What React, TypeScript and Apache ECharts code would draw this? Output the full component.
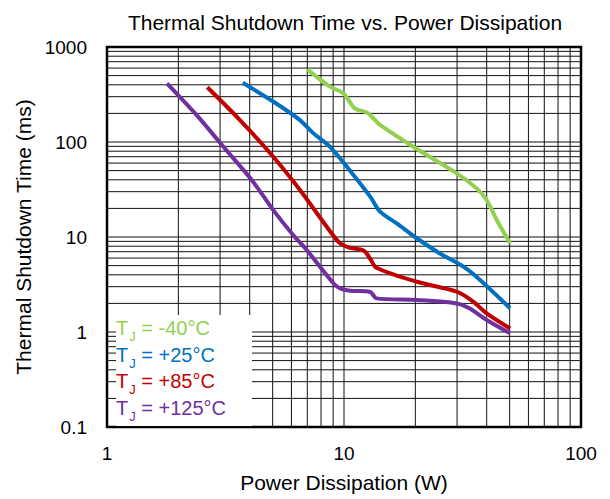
import React, { useEffect, useRef } from "react";
import * as echarts from "echarts";

const seriesNames = ["TJ = -40°C", "TJ = +25°C", "TJ = +85°C", "TJ = +125°C"];
const legendTemps = ["-40°C", "+25°C", "+85°C", "+125°C"];
const colors = ["#92D050", "#0070C0", "#C00000", "#7030A0"];

const greenData: [number, number][] = [
  [7.0, 582], [8.73, 382], [9.93, 326], [11.1, 226], [12.5, 204], [13.3, 178],
  [14.2, 151], [19.6, 89], [29.9, 46.8], [36.3, 32.5], [40.0, 24.5], [44.1, 15.1], [50.2, 8.6],
];
const blueData: [number, number][] = [
  [3.74, 421], [5.03, 266], [6.52, 170], [7.41, 124], [8.73, 89], [10.4, 53], [12.9, 26.6],
  [14.2, 18.5], [16.7, 13.9], [20.3, 9.7], [25.4, 6.7], [31.9, 4.87], [37.5, 3.53], [50.2, 1.78],
];
const redData: [number, number][] = [
  [2.65, 377], [3.64, 170], [5.03, 70], [6.52, 31.2], [8.73, 11.5], [9.62, 8.6], [10.6, 7.7],
  [12.1, 7.2], [12.9, 5.9], [13.7, 4.75], [20.3, 3.38], [29.9, 2.66], [35.2, 2.08], [40.0, 1.57], [50.2, 1.09],
];
const purpleData: [number, number][] = [
  [1.79, 415], [2.39, 192], [3.1, 89], [4.08, 39.8], [5.03, 19.2], [6.1, 10.5], [6.96, 7.3],
  [7.92, 4.87], [9.02, 3.26], [9.62, 2.88], [10.6, 2.72], [12.9, 2.64], [13.7, 2.26], [20.3, 2.17],
  [29.9, 2.0], [33.8, 1.78], [40.0, 1.34], [50.2, 0.97],
];
const allData = [greenData, blueData, redData, purpleData];

const xDecades = [1, 10];
const yDecades = [0.1, 1, 10, 100];
const gridMultipliers = [1, 2, 3, 4, 5, 6, 7, 8, 9];
const xTickLabels = ["1", "10", "100"];
const yTickLabels = ["0.1", "1", "10", "100", "1000"];

const FONT = "'Liberation Sans', Arial, sans-serif";

export default function App() {
  const ref = useRef<HTMLDivElement>(null);
  useEffect(() => {
    if (!ref.current) return;
    const chart = echarts.init(ref.current, null, { renderer: "svg" });
    const gridSeries: any[] = [];
    xDecades.forEach((d) =>
      gridMultipliers.forEach((m) => {
        const v = m * d;
        if (v <= 1) return;
        gridSeries.push({
          type: "line", silent: true, symbol: "none", z: 1,
          data: [[v, 0.1], [v, 1000]],
          lineStyle: { color: "#111", width: 1 },
        });
      })
    );
    yDecades.forEach((d) =>
      gridMultipliers.forEach((m) => {
        const v = Math.round(m * d * 1000) / 1000;
        if (v <= 0.1) return;
        gridSeries.push({
          type: "line", silent: true, symbol: "none", z: 1,
          data: [[1, v], [100, v]],
          lineStyle: { color: "#111", width: 1 },
        });
      })
    );
    const dataSeries = allData.map((d, i) => ({
      name: seriesNames[i],
      type: "line",
      symbol: "none",
      smooth: 0.3,
      z: 5,
      data: d,
      lineStyle: { color: colors[i], width: 4 },
    }));
    const legendTexts = legendTemps.map((t, i) => ({
      type: "text",
      z: 101,
      x: 116,
      y: 328 + i * 26.5,
      style: {
        text: `{a|T}{b|J}{a| = ${t}}`,
        verticalAlign: "middle",
        fill: colors[i],
        rich: {
          a: { fontSize: 20, fontFamily: FONT, color: colors[i], lineHeight: 24 },
          b: { fontSize: 13, fontFamily: FONT, color: colors[i], lineHeight: 24, verticalAlign: "bottom", padding: [0, 0, -3, 1] },
        },
      },
    }));
    chart.setOption({
      animation: false,
      backgroundColor: "#fff",
      title: {
        text: "Thermal Shutdown Time vs. Power Dissipation",
        left: 340,
        top: 7,
        textAlign: "center",
        textStyle: { fontFamily: FONT, fontSize: 21, fontWeight: "normal", color: "#000" },
      },
      grid: { left: 107, right: 29, top: 47, bottom: 72, show: true, borderColor: "#000", borderWidth: 2.5, backgroundColor: "transparent" },
      xAxis: {
        type: "log", logBase: 10, min: 1, max: 100,
        name: "Power Dissipation (W)", nameLocation: "middle", nameGap: 45,
        nameTextStyle: { fontFamily: FONT, fontSize: 21, color: "#000" },
        axisLine: { show: false }, axisTick: { show: false }, splitLine: { show: false },
        axisLabel: {
          fontFamily: FONT, fontSize: 19, color: "#000", margin: 17,
          formatter: (v: number) => xTickLabels[Math.round(Math.log10(v))] ?? "",
        },
      },
      yAxis: {
        type: "log", logBase: 10, min: 0.1, max: 1000,
        name: "Thermal Shutdown Time (ms)", nameLocation: "middle", nameGap: 72,
        nameTextStyle: { fontFamily: FONT, fontSize: 21, color: "#000" },
        axisLine: { show: false }, axisTick: { show: false }, splitLine: { show: false },
        axisLabel: {
          fontFamily: FONT, fontSize: 19, color: "#000", margin: 20,
          formatter: (v: number) => yTickLabels[Math.round(Math.log10(v)) + 1] ?? "",
        },
      },
      graphic: [
        { type: "rect", z: 100, shape: { x: 116, y: 315, width: 136, height: 111 }, style: { fill: "#fff" } },
        ...legendTexts,
      ],
      series: [...gridSeries, ...dataSeries],
    });
    return () => chart.dispose();
  }, []);
  return <div ref={ref} style={{ position: "fixed", left: 0, top: 0, width: 610, height: 499 }} />;
}
